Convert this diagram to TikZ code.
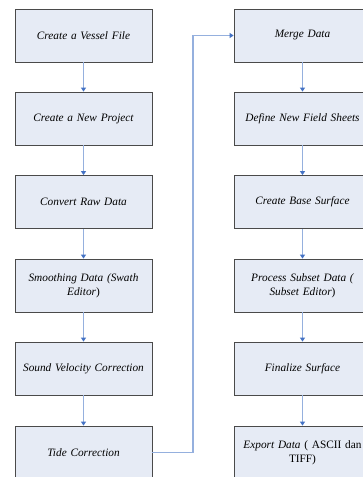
\documentclass[tikz,border=0pt]{standalone}
\usepackage{fontspec}
\setmainfont{Liberation Serif}
\usetikzlibrary{arrows.meta}
\definecolor{boxfill}{HTML}{E6EBF5}
\definecolor{boxline}{HTML}{4A4A4A}
\definecolor{linkline}{HTML}{95B0DE}
\definecolor{linktip}{HTML}{4472C4}
\tikzset{
  stepbox/.style={draw=boxline, line width=0.9pt, fill=boxfill, rectangle,
    minimum width=137pt, minimum height=53pt, text width=132pt, align=center,
    font=\fontsize{11.3}{14}\selectfont\itshape, inner sep=0pt},
  link/.style={draw=linkline, line width=1.2pt,
    -{Triangle[width=5pt,length=4pt,color=linktip]}}
}
\begin{document}
\begin{tikzpicture}[x=1pt,y=-1pt]
\useasboundingbox (0,0) rectangle (363,477);
% left column
\node[stepbox] (a1) at (83.5,35.5) {Create a Vessel File};
\node[stepbox] (a2) at (83.5,118.5) {Create a New Project};
\node[stepbox] (a3) at (83.5,202) {Convert Raw Data};
\node[stepbox] (a4) at (83.5,285.5) {Smoothing Data (Swath\\Editor\upshape)};
\node[stepbox] (a5) at (83.5,368.5) {Sound Velocity Correction};
\node[stepbox] (a6) at (83.5,452.5) {Tide Correction};
% right column
\node[stepbox] (b1) at (302.5,35.5) {Merge Data};
\node[stepbox] (b2) at (302.5,118.5) {Define New Field Sheets};
\node[stepbox] (b3) at (302.5,202) {Create Base Surface};
\node[stepbox] (b4) at (302.5,285.5) {Process Subset Data (\\Subset Editor\upshape)};
\node[stepbox] (b5) at (302.5,368.5) {Finalize Surface};
\node[stepbox] (b6) at (302.5,452.5) {Export Data \upshape( ASCII dan\\TIFF)};
% connectors
\draw[link] (a1) -- (a2);
\draw[link] (a2) -- (a3);
\draw[link] (a3) -- (a4);
\draw[link] (a4) -- (a5);
\draw[link] (a5) -- (a6);
\coordinate (turn) at (193,452.5);
\draw[link] (a6.east) -- (turn) |- (b1.west);
\draw[link] (b1) -- (b2);
\draw[link] (b2) -- (b3);
\draw[link] (b3) -- (b4);
\draw[link] (b4) -- (b5);
\draw[link] (b5) -- (b6);
\end{tikzpicture}
\end{document}
